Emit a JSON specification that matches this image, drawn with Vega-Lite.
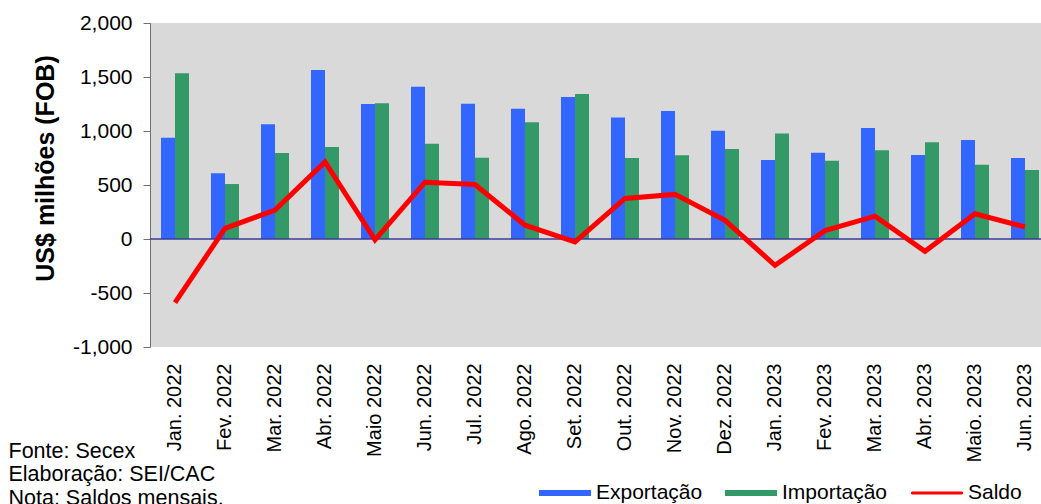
{
  "$schema": "https://vega.github.io/schema/vega-lite/v6.json",
  "autosize": "none",
  "padding": {"left": 150, "top": 23, "right": 0, "bottom": 157},
  "width": 900,
  "height": 324,
  "background": "white",
  "data": {
    "values": [
      {"mes": "Jan. 2022", "serie": "Exportação", "valor": 938},
      {"mes": "Jan. 2022", "serie": "Importação", "valor": 1534},
      {"mes": "Jan. 2022", "serie": "Saldo", "valor": -590},
      {"mes": "Fev. 2022", "serie": "Exportação", "valor": 608},
      {"mes": "Fev. 2022", "serie": "Importação", "valor": 509},
      {"mes": "Fev. 2022", "serie": "Saldo", "valor": 99},
      {"mes": "Mar. 2022", "serie": "Exportação", "valor": 1062},
      {"mes": "Mar. 2022", "serie": "Importação", "valor": 796},
      {"mes": "Mar. 2022", "serie": "Saldo", "valor": 268},
      {"mes": "Abr. 2022", "serie": "Exportação", "valor": 1565},
      {"mes": "Abr. 2022", "serie": "Importação", "valor": 852},
      {"mes": "Abr. 2022", "serie": "Saldo", "valor": 714},
      {"mes": "Maio 2022", "serie": "Exportação", "valor": 1250},
      {"mes": "Maio 2022", "serie": "Importação", "valor": 1256},
      {"mes": "Maio 2022", "serie": "Saldo", "valor": -8},
      {"mes": "Jun. 2022", "serie": "Exportação", "valor": 1410},
      {"mes": "Jun. 2022", "serie": "Importação", "valor": 883},
      {"mes": "Jun. 2022", "serie": "Saldo", "valor": 526},
      {"mes": "Jul. 2022", "serie": "Exportação", "valor": 1253},
      {"mes": "Jul. 2022", "serie": "Importação", "valor": 753},
      {"mes": "Jul. 2022", "serie": "Saldo", "valor": 505},
      {"mes": "Ago. 2022", "serie": "Exportação", "valor": 1207},
      {"mes": "Ago. 2022", "serie": "Importação", "valor": 1080},
      {"mes": "Ago. 2022", "serie": "Saldo", "valor": 128},
      {"mes": "Set. 2022", "serie": "Exportação", "valor": 1315},
      {"mes": "Set. 2022", "serie": "Importação", "valor": 1343},
      {"mes": "Set. 2022", "serie": "Saldo", "valor": -26},
      {"mes": "Out. 2022", "serie": "Exportação", "valor": 1124},
      {"mes": "Out. 2022", "serie": "Importação", "valor": 750},
      {"mes": "Out. 2022", "serie": "Saldo", "valor": 376},
      {"mes": "Nov. 2022", "serie": "Exportação", "valor": 1185},
      {"mes": "Nov. 2022", "serie": "Importação", "valor": 775},
      {"mes": "Nov. 2022", "serie": "Saldo", "valor": 413},
      {"mes": "Dez. 2022", "serie": "Exportação", "valor": 1003},
      {"mes": "Dez. 2022", "serie": "Importação", "valor": 833},
      {"mes": "Dez. 2022", "serie": "Saldo", "valor": 173},
      {"mes": "Jan. 2023", "serie": "Exportação", "valor": 731},
      {"mes": "Jan. 2023", "serie": "Importação", "valor": 978},
      {"mes": "Jan. 2023", "serie": "Saldo", "valor": -244},
      {"mes": "Fev. 2023", "serie": "Exportação", "valor": 799},
      {"mes": "Fev. 2023", "serie": "Importação", "valor": 725},
      {"mes": "Fev. 2023", "serie": "Saldo", "valor": 78},
      {"mes": "Mar. 2023", "serie": "Exportação", "valor": 1028},
      {"mes": "Mar. 2023", "serie": "Importação", "valor": 821},
      {"mes": "Mar. 2023", "serie": "Saldo", "valor": 211},
      {"mes": "Abr. 2023", "serie": "Exportação", "valor": 778},
      {"mes": "Abr. 2023", "serie": "Importação", "valor": 895},
      {"mes": "Abr. 2023", "serie": "Saldo", "valor": -114},
      {"mes": "Maio. 2023", "serie": "Exportação", "valor": 917},
      {"mes": "Maio. 2023", "serie": "Importação", "valor": 688},
      {"mes": "Maio. 2023", "serie": "Saldo", "valor": 233},
      {"mes": "Jun. 2023", "serie": "Exportação", "valor": 750},
      {"mes": "Jun. 2023", "serie": "Importação", "valor": 639},
      {"mes": "Jun. 2023", "serie": "Saldo", "valor": 112}
    ]
  },
  "encoding": {
    "x": {
      "field": "mes",
      "type": "nominal",
      "sort": null,
      "scale": {"paddingInner": 0.44, "paddingOuter": 0.22},
      "axis": {
        "title": ["Fonte: Secex", "Elaboração: SEI/CAC", "Nota: Saldos mensais."],
        "titleX": -142,
        "titleY": 93,
        "titleAlign": "left",
        "titleAnchor": "start",
        "titleBaseline": "top",
        "titleAngle": 0,
        "titleFont": "Liberation Sans",
        "titleFontSize": 21.5,
        "titleFontWeight": "normal",
        "titleLineHeight": 23.5,
        "titleColor": "black",
        "labelAngle": 270,
        "labelAlign": "right",
        "labelBaseline": "middle",
        "labelPadding": 16,
        "labelFont": "Liberation Sans",
        "labelFontSize": 20,
        "labelColor": "black",
        "ticks": false,
        "domain": false
      }
    },
    "y": {
      "field": "valor",
      "type": "quantitative",
      "scale": {"domain": [-1000, 2000], "nice": false},
      "axis": {
        "title": "US$ milhões (FOB)",
        "titleFont": "Liberation Sans",
        "titleFontSize": 25,
        "titleFontWeight": "bold",
        "titleColor": "black",
        "titleX": -97,
        "titleY": 145,
        "titleBaseline": "alphabetic",
        "values": [-1000, -500, 0, 500, 1000, 1500, 2000],
        "labelExpr": "replace(format(datum.value, ',.0f'), '−', '-')",
        "labelFont": "Liberation Sans",
        "labelFontSize": 21,
        "labelColor": "black",
        "labelPadding": 11,
        "tickSize": 7,
        "tickColor": "#707070",
        "domainColor": "#707070",
        "grid": false
      }
    },
    "color": {
      "field": "serie",
      "type": "nominal",
      "scale": {
        "domain": ["Exportação", "Importação", "Saldo"],
        "range": ["#3366FF", "#339966", "#FF0000"]
      },
      "legend": {
        "title": null,
        "orient": "none",
        "direction": "horizontal",
        "columns": 3,
        "legendX": 389,
        "legendY": 444,
        "padding": 0,
        "symbolSize": 2704,
        "symbolStrokeWidth": 0,
        "labelFont": "Liberation Sans",
        "labelFontSize": 21,
        "labelColor": "black",
        "labelOffset": 5,
        "columnPadding": 22,
        "symbolOpacity": 1,
        "labelLimit": 300,
        "encode": {
          "symbols": {
            "update": {
              "shape": {"signal": "datum.value === 'Saldo' ? 'M-0.95,-0.055L0.95,-0.055A0.055,0.055 0 0 1 0.95,0.055L-0.95,0.055A0.055,0.055 0 0 1 -0.95,-0.055Z' : 'M-1,-0.1125L1,-0.1125L1,0.1125L-1,0.1125Z'"},
              "fill": {"signal": "scale('color', datum.value)"},
              "strokeWidth": {"value": 0},
              "opacity": {"value": 1}
            }
          }
        }
      }
    }
  },
  "layer": [
    {
      "transform": [{"filter": "datum.serie !== 'Saldo'"}],
      "mark": {"type": "bar", "opacity": 1},
      "encoding": {
        "xOffset": {"field": "serie", "type": "nominal", "sort": ["Exportação", "Importação"], "scale": {"paddingInner": 0, "paddingOuter": 0}}
      }
    },
    {
      "data": {"values": [{"zero": 0}]},
      "mark": {"type": "rule", "color": "#3B3B9A", "strokeWidth": 1.6},
      "encoding": {"x": null, "color": null, "y": {"field": "zero", "type": "quantitative"}}
    },
    {
      "transform": [{"filter": "datum.serie === 'Saldo'"}],
      "mark": {"type": "line", "strokeWidth": 5, "strokeJoin": "miter", "strokeCap": "butt"}
    }
  ],
  "config": {
    "view": {"fill": "#D9D9D9", "stroke": null},
    "font": "Liberation Sans"
  }
}
